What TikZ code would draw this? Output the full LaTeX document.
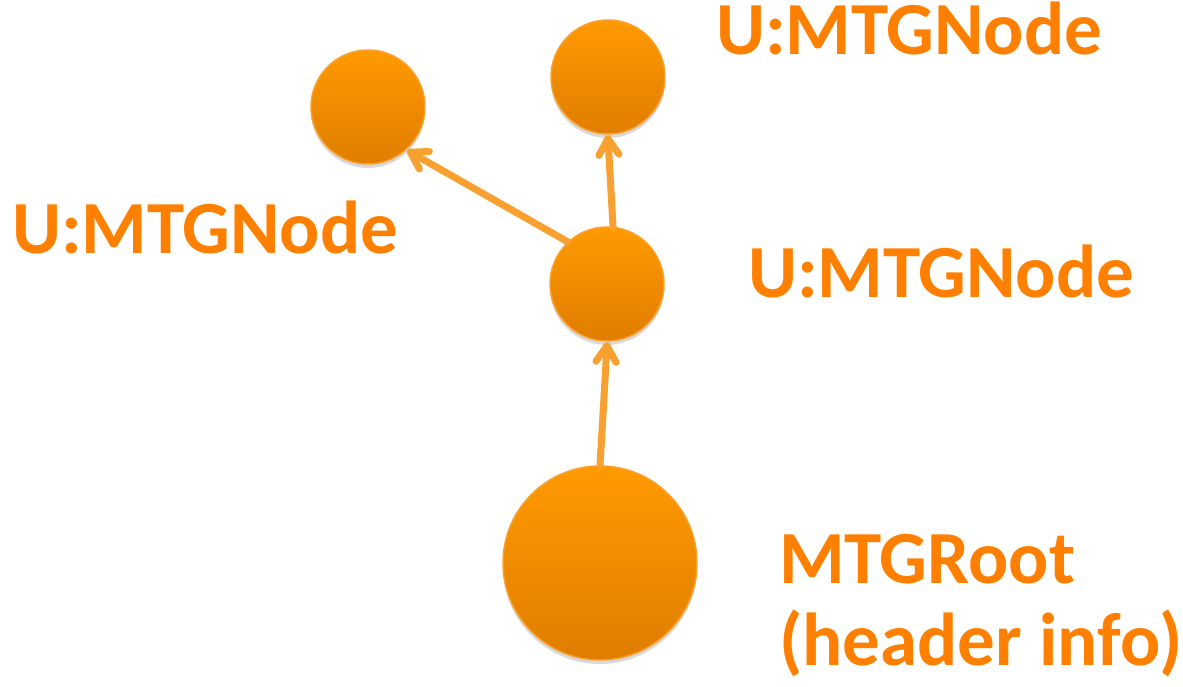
\documentclass[tikz,border=0pt]{standalone}
\usepackage{fontspec}
\setmainfont{Carlito}
\usetikzlibrary{calc,shadows}
\definecolor{txtor}{HTML}{FF8000}
\definecolor{topor}{HTML}{FF9A00}
\definecolor{botor}{HTML}{E07D00}
\definecolor{edgeor}{HTML}{F9A12C}
\definecolor{arror}{HTML}{F8A030}
\tikzset{
  ball/.style={circle, draw=edgeor, line width=1.5pt, top color=topor, bottom color=botor, inner sep=0pt,
    drop shadow={shadow xshift=0pt, shadow yshift=-4pt, opacity=0.25, fill=black!60}},
  lbl/.style={text=txtor, font=\bfseries\fontsize{75}{82}\selectfont, inner sep=0pt, anchor=base west, align=left},
  conn/.style={draw=arror, line width=7pt, line cap=round},
  barb/.style={draw=arror, line width=7pt, line cap=round, line join=round}
}
\begin{document}
\begin{tikzpicture}[x=1pt, y=-1pt]
\useasboundingbox (0,0) rectangle (1183,687);
\node[ball, minimum size=194pt] (root) at (600,563) {};
\node[ball, minimum size=114pt] (mid) at (607,284) {};
\node[ball, minimum size=114pt] (tr) at (608,77) {};
\node[ball, minimum size=114pt] (tl) at (368,107) {};
\coordinate (e1) at ($(mid.south)+(0,4)$);
\coordinate (e2) at ($(tr.south)+(0,4)$);
\coordinate (e3) at ($(tl.-47)+(3,3)$);
\draw[conn] (root.north) -- (e1);
\draw[barb] ($(e1)!19pt!32:(root.north)$) -- (e1) -- ($(e1)!19pt!-32:(root.north)$);
\draw[conn] (mid.84) -- (e2);
\draw[barb] ($(e2)!19pt!32:(mid.84)$) -- (e2) -- ($(e2)!19pt!-32:(mid.84)$);
\draw[conn] (mid.133) -- (e3);
\draw[barb] ($(e3)!19pt!32:(mid.133)$) -- (e3) -- ($(e3)!19pt!-32:(mid.133)$);
\node[lbl] (ltr) at (716,55) {U:MTGNode};
\node[lbl] (ltl) at (12,253) {U:MTGNode};
\node[lbl] (lmid) at (748,297) {U:MTGNode};
\node[lbl] (lroot) at (779,665) {MTGRoot\\(header info)};
\end{tikzpicture}
\end{document}
